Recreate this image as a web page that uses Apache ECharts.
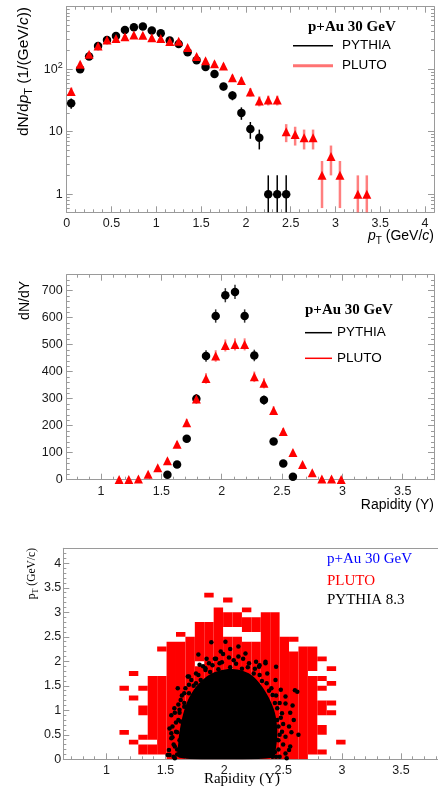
<!DOCTYPE html>
<html><head><meta charset="utf-8">
<script src="https://cdn.jsdelivr.net/npm/echarts@6/dist/echarts.min.js"></script>
<style>html,body{margin:0;padding:0;background:#fff;}#c{width:438px;height:787px;}</style>
</head><body><div id="c"></div>
<script>
// ===== Panel 1: dN/dpT =====
const ptBinsPythia = [0.05,0.15,0.25,0.35,0.45,0.55,0.65,0.75,0.85,0.95,1.05,1.15,1.25,1.35,1.45,1.55,1.65,1.75,1.85,1.95,2.05,2.15,2.25,2.35,2.45];
const pythiaPt     = [28.6,100,160,236,294,341,425,470,481,415,377,287,254,187,139,108,84,53,38,20,11,8,1,1,1];
const pythiaPtErr  = [5.3,10,12.6,15.4,17.1,18.5,20.6,21.7,21.9,20.4,19.4,16.9,15.9,13.7,11.8,10.4,9.2,7.3,6.2,4.5,3.3,2.8,1,1,1];
const ptBinsPluto  = [0.05,0.15,0.25,0.35,0.45,0.55,0.65,0.75,0.85,0.95,1.05,1.15,1.25,1.35,1.45,1.55,1.65,1.75,1.85,1.95,2.05,2.15,2.25,2.35,2.45,2.55,2.65,2.75,2.85,2.95,3.05,3.25,3.35];
const plutoPt      = [44,120,174,236,294,310,332,354,350,320,309,277,281,222,159,136,122,112,73,66,43,31,32,32,10,9,8,8,2,4,2,1,1];
const plutoPtErr   = [6.6,11,13.2,15.4,17.1,17.6,18.2,18.8,18.7,17.9,17.6,16.6,16.8,14.9,12.6,11.7,11,10.6,8.5,8.1,6.6,5.6,5.7,5.7,3.2,3,2.8,2.8,1.4,2,1.4,1,1];
const ptMajorTicks = [0,0.5,1,1.5,2,2.5,3,3.5,4];
const ptTickLabels = [0,0.5,1,1.5,2,2.5,3,3.5,4];
const logMajorTicks = [1,10,100,1000];
const logMinorTicks = [0.6,0.7,0.8,0.9,2,3,4,5,6,7,8,9,20,30,40,50,60,70,80,90,200,300,400,500,600,700,800,900];
const logTickLabels = [1,10,100];

// ===== Panel 2: dN/dY =====
const yBinsPythia = [1.55,1.63,1.71,1.79,1.87,1.95,2.03,2.11,2.19,2.27,2.35,2.43,2.51,2.59];
const pythiaY     = [18,56,152,300,458,606,683,695,606,460,295,141,60,11];
const pythiaYErr  = [4.2,7.5,12.3,17.3,21.4,24.6,26.1,26.4,24.6,21.4,17.2,11.9,7.7,3.3];
const yBinsPluto  = [1.15,1.23,1.31,1.39,1.47,1.55,1.63,1.71,1.79,1.87,1.95,2.03,2.11,2.19,2.27,2.35,2.43,2.51,2.59,2.67,2.75,2.83,2.91,2.99];
const plutoY      = [1,1,3,20,44,70,131,211,299,375,458,497,501,501,381,357,256,178,101,56,26,3,3,1];
const plutoYErr   = [1,1,1.7,4.5,6.6,8.4,11.4,14.5,17.3,19.4,21.4,22.3,22.4,22.4,19.5,18.9,16,13.3,10,7.5,5.1,1.7,1.7,1];
const rapMajorTicks = [1,1.5,2,2.5,3,3.5];
const rapTickLabels = [1,1.5,2,2.5,3,3.5];
const dndyMajorTicks = [0,100,200,300,400,500,600,700];
const dndyTickLabels = [0,100,200,300,400,500,600,700];

// ===== Panel 3: pT vs Y =====
const plutoCellCols = [1.15,1.23,1.31,1.39,1.47,1.55,1.63,1.71,1.79,1.87,1.95,2.03,2.11,2.19,2.27,2.35,2.43,2.51,2.59,2.67,2.75,2.83,2.91,2.99];
const plutoCellRanges = [
  [[0.5,0.6],[1.4,1.5]],
  [[0.3,0.4],[1.2,1.3],[1.7,1.8]],
  [[0.1,0.3],[0.4,0.5],[0.9,1.1],[1.4,1.5]],
  [[0.1,0.3],[0.4,1.7]],
  [[0.1,1.7],[2.2,2.3]],
  [[0,2.4]],
  [[0,2.4],[2.5,2.6]],
  [[0,2.5]],
  [[0,1.9],[2.0,2.8]],
  [[0,2.8],[3.3,3.4]],
  [[0,3.1]],
  [[0,2.5],[2.7,3.0],[3.2,3.3]],
  [[0,2.5],[2.7,3.0]],
  [[0,2.4],[2.6,2.9],[3.0,3.1]],
  [[0,2.4],[2.6,2.9]],
  [[0,3.0]],
  [[0,3.0]],
  [[0,2.5]],
  [[0,2.2],[2.4,2.5]],
  [[0,2.3]],
  [[0.1,1.7],[1.8,2.3]],
  [[0.1,0.2],[0.5,0.7],[0.9,1.2],[1.4,1.5],[1.6,1.7],[2.0,2.1]],
  [[0.9,1.0],[1.1,1.2],[1.5,1.6],[1.8,1.9]],
  [[0.3,0.4]]
];
const pythiaCoreY  = [1.62,1.61,1.63,1.66,1.70,1.76,1.83,1.92,2.02,2.13,2.23,2.31,2.38,2.43,2.45,2.44,2.41];
const pythiaCorePt = [0.03,0.35,0.70,1.00,1.25,1.48,1.65,1.78,1.84,1.82,1.72,1.52,1.25,0.95,0.60,0.25,0.03];
const pythiaDotY  = [1.89,2.01,1.78,2.18,1.70,1.63,1.56,1.55,1.53,1.52,2.60,2.59,2.63,2.55,2.52,2.44,2.35,2.27,1.96,1.84,1.76,1.66,1.61,2.49,2.46,2.52,
  1.69,1.70,1.605,1.66,1.576,1.62,1.55,1.63,1.535,1.59,1.55,1.62,1.58,1.535,1.647,1.79,1.84,1.76,1.87,
  2.435,2.48,2.41,2.52,2.45,2.55,2.49,2.62,2.46,2.56,2.52,2.41,2.295,2.365,2.21,2.35,
  1.60,1.62,1.66,1.70,1.74,1.80,1.88,1.95,2.05,2.15,2.25,2.32,2.38,2.43,2.45,2.44,2.43,1.60,1.58,2.47,1.92,2.08,2.12,1.99,
  1.57,1.59,1.61,1.64,1.67,1.72,1.78,1.82,1.90,1.93,1.98,2.04,2.10,2.16,2.20,2.26,2.30,2.36,2.40,2.44,2.47,2.48,2.50,2.47,2.50,2.46,2.44,1.57,1.56,1.58,2.05,1.97,2.12,1.85,2.30,2.56,2.58,2.53,1.60,2.57];
const pythiaDotPt = [2.39,2.40,2.14,2.16,1.69,1.21,0.67,0.53,0.19,0.09,1.41,0.80,0.50,0.19,1.28,1.89,1.96,1.99,1.96,1.82,1.55,1.07,0.80,0.94,0.67,0.46,
  1.69,1.52,1.45,1.35,1.04,1.01,0.90,0.77,0.63,0.56,0.43,0.39,0.26,0.09,0.16,1.93,1.86,1.75,1.96,
  1.62,1.42,1.31,1.14,1.04,0.67,0.56,1.38,0.39,0.26,0.12,0.05,1.89,1.75,1.96,1.99,
  0.55,0.95,1.15,1.35,1.50,1.62,1.78,1.84,1.88,1.85,1.75,1.60,1.40,1.15,0.80,0.40,0.15,0.20,0.02,0.05,2.05,2.02,2.10,2.15,
  0.30,0.75,1.12,1.30,1.45,1.62,1.72,1.90,1.92,2.05,1.98,2.08,1.95,2.05,1.88,1.85,1.72,1.55,1.45,1.30,1.15,0.85,0.72,0.50,0.30,0.20,0.05,0.05,0.45,0.95,2.25,2.20,2.30,2.05,1.92,0.95,1.10,0.02,0.10,0.55];
const rapTicks3 = [1,1.5,2,2.5,3,3.5];
const rapLabels3 = [1,1.5,2,2.5,3,3.5];
const ptAxisTicks3 = [0,0.5,1,1.5,2,2.5,3,3.5,4];
const ptAxisLabels3 = [0,0.5,1,1.5,2,2.5,3,3.5,4];

// ===== styling / layout =====
const FONT = "'Liberation Sans', Arial, sans-serif";
const SERIF = "'Liberation Serif', 'Times New Roman', serif";
const FRAME = '#9a9a9a';
const TXT = '#1a1a1a';
const CELL_HALF_W = 0.04;

function steps(a, b, s){ const out=[]; const n=Math.round((b-a)/s); for(let i=0;i<=n;i++) out.push(Math.round((a+i*s)*1000)/1000); return out; }
function fmtNum(v){ return String(Math.round(v*1000)/1000); }

const grids=[], xAxes=[], yAxes=[];
function common(g, c, pos){
  const o = {gridIndex:g, type:c.type||'value', min:c.min, max:c.max, position:pos,
    splitLine:{show:false}, splitArea:{show:false}, axisPointer:{show:false}, silent:true, minorTick:{show:false}};
  if (c.type==='log') o.logBase = 10;
  return o;
}
function mainAxis(g, c, pos){
  return Object.assign(common(g,c,pos), {
    axisLine:{show:true,onZero:false,lineStyle:{color:FRAME,width:1}},
    axisTick:{show:true,inside:true,length:6,customValues:c.major,lineStyle:{color:FRAME,width:1}},
    axisLabel:{show:true,customValues:c.labels,formatter:c.fmt||fmtNum,margin:c.margin,color:TXT,
      fontSize:12.5,fontFamily:FONT,hideOverlap:false,rich:c.rich||{}}
  });
}
function mirrorAxis(g, c, pos, ticks){
  return Object.assign(common(g,c,pos), {
    axisLine:{show:true,onZero:false,lineStyle:{color:FRAME,width:1}},
    axisTick:{show:ticks,inside:true,length:6,customValues:c.major,lineStyle:{color:FRAME,width:1}},
    axisLabel:{show:false}
  });
}
function minorAxis(g, c, pos){
  return Object.assign(common(g,c,pos), {
    axisLine:{show:false,onZero:false},
    axisTick:{show:true,inside:true,length:3,customValues:c.minor,lineStyle:{color:FRAME,width:1}},
    axisLabel:{show:false}
  });
}
function panel(rect, xc, yc, full){
  const gM = grids.length; grids.push(Object.assign({containLabel:false}, rect));
  const gm = grids.length; grids.push(Object.assign({containLabel:false}, rect));
  const xi = xAxes.length, yi = yAxes.length;
  xAxes.push(mainAxis(gM, xc, 'bottom'));
  xAxes.push(mirrorAxis(gM, xc, 'top', full));
  yAxes.push(mainAxis(gM, yc, 'left'));
  if (full) yAxes.push(mirrorAxis(gM, yc, 'right', true));
  xAxes.push(minorAxis(gm, xc, 'bottom'));
  if (full) xAxes.push(minorAxis(gm, xc, 'top'));
  yAxes.push(minorAxis(gm, yc, 'left'));
  if (full) yAxes.push(minorAxis(gm, yc, 'right'));
  return {xi, yi};
}

const P1 = panel({left:66.7, top:6.7, width:367.3, height:205.6},
  {min:0, max:4.1, major:ptMajorTicks, minor:steps(0,4.1,0.1), labels:ptTickLabels, margin:5},
  {type:'log', min:0.513, max:1000, major:logMajorTicks, minor:logMinorTicks, labels:logTickLabels, margin:4,
   fmt:v=> (Math.abs(v-100)<1e-6 ? '10{sup|2}' : fmtNum(v)),
   rich:{sup:{fontSize:9,fontFamily:FONT,color:TXT,padding:[0,0,8,0]}}}, true);
const P2 = panel({left:66.7, top:274.7, width:367.3, height:205},
  {min:0.7155, max:3.759, major:rapMajorTicks, minor:steps(0.8,3.7,0.1), labels:rapTickLabels, margin:5},
  {min:0, max:759, major:dndyMajorTicks, minor:steps(0,740,20), labels:dndyTickLabels, margin:4}, true);
const P3 = panel({left:63.3, top:548.3, width:376.7, height:211},
  {min:0.633, max:3.815, major:rapTicks3, minor:steps(0.7,3.8,0.1), labels:rapLabels3, margin:5},
  {min:0, max:4.306, major:ptAxisTicks3, minor:steps(0,4.3,0.1), labels:ptAxisLabels3, margin:2}, false);

function errData(xs, ys, es, floor){ return xs.map((x,i)=>[x, Math.max(ys[i]-es[i], floor), ys[i]+es[i]]); }
function errSeries(p, data, color, width){
  return {type:'custom', xAxisIndex:p.xi, yAxisIndex:p.yi, silent:true, animation:false,
    encode:{x:0,y:[1,2]}, data,
    renderItem:(params, api)=>{
      const a = api.coord([api.value(0), api.value(1)]);
      const b = api.coord([api.value(0), api.value(2)]);
      return {type:'line', shape:{x1:a[0],y1:a[1],x2:b[0],y2:b[1]}, style:{stroke:color, lineWidth:width}};
    }};
}
function pts(p, xs, ys, symbol, size, color){
  return {type:'scatter', xAxisIndex:p.xi, yAxisIndex:p.yi, silent:true, animation:false,
    symbol, symbolSize:size, itemStyle:{color, opacity:1}, data: xs.map((x,i)=>[x, ys[i]])};
}

const cellData = [];
plutoCellCols.forEach((c,i)=>plutoCellRanges[i].forEach(r=>cellData.push([c, r[0], r[1]])));

const series = [
  errSeries(P1, errData(ptBinsPythia, pythiaPt, pythiaPtErr, 0.513), '#000', 1.5),
  pts(P1, ptBinsPythia, pythiaPt, 'circle', 8.5, '#000'),
  errSeries(P1, errData(ptBinsPluto, plutoPt, plutoPtErr, 0.513), 'rgba(255,0,0,0.5)', 2.5),
  pts(P1, ptBinsPluto, plutoPt, 'triangle', 9, '#ff0000'),

  errSeries(P2, errData(yBinsPythia, pythiaY, pythiaYErr, 0), '#333', 1.5),
  pts(P2, yBinsPythia, pythiaY, 'circle', 8.5, '#000'),
  errSeries(P2, errData(yBinsPluto, plutoY, plutoYErr, 0), 'rgba(255,0,0,0.5)', 2),
  pts(P2, yBinsPluto, plutoY, 'triangle', 9, '#ff0000'),

  {type:'custom', xAxisIndex:P3.xi, yAxisIndex:P3.yi, silent:true, animation:false, clip:true,
    encode:{x:0,y:[1,2]}, data:cellData,
    renderItem:(params, api)=>{
      const a = api.coord([api.value(0)-CELL_HALF_W, api.value(2)]);
      const b = api.coord([api.value(0)+CELL_HALF_W, api.value(1)]);
      return {type:'rect', shape:{x:a[0], y:a[1], width:b[0]-a[0], height:b[1]-a[1]}, style:{fill:'#ff0000'}};
    }},
  {type:'custom', xAxisIndex:P3.xi, yAxisIndex:P3.yi, silent:true, animation:false, clip:true,
    encode:{x:0,y:1}, data:pythiaCoreY.map((y,i)=>[y, pythiaCorePt[i]]),
    renderItem:(params, api)=>{
      if (params.dataIndex !== 0) return null;
      const points = pythiaCoreY.map((y,i)=>api.coord([y, pythiaCorePt[i]]));
      return {type:'polygon', shape:{points, smooth:0.3}, style:{fill:'#000'}};
    }},
  pts(P3, pythiaDotY, pythiaDotPt, 'circle', 4.5, '#000')
];

function txt(x, y, text, o){
  return {type:'text', x, y, silent:true, rotation:o.rot||0,
    style:Object.assign({text, fill:o.color||'#000', fontSize:o.size||13, fontFamily:o.font||FONT,
      fontWeight:o.weight||'normal', align:o.align||'left', verticalAlign:o.va||'middle'}, o.rich?{rich:o.rich}:{})};
}
function hline(x1, x2, y, color, w){ return {type:'line', silent:true, shape:{x1,y1:y,x2,y2:y}, style:{stroke:color, lineWidth:w}}; }

const subRich = (size, font) => ({
  i:{fontStyle:'italic', fontSize:size, fontFamily:font, color:'#000'},
  sub:{fontSize:Math.round(size*0.72), fontFamily:font, padding:[10,0,0,0], color:'#000'}
});

const graphic = [
  // panel 1
  txt(308, 27, 'p+Au 30 GeV', {font:SERIF, size:15, weight:'bold'}),
  hline(293, 333, 45.7, '#000', 1.5),
  txt(342, 45.7, 'PYTHIA', {size:13.5}),
  hline(293, 333, 65.7, 'rgba(255,0,0,0.55)', 3),
  txt(342, 65.7, 'PLUTO', {size:13.5}),
  txt(24, 7, 'dN/d{i|p}{sub|T} (1/(GeV/{i|c}))', {size:15.5, rot:Math.PI/2, align:'right', rich:subRich(15.5, FONT)}),
  txt(434, 236, '{i|p}{sub|T} (GeV/{i|c})', {size:14, align:'right', rich:subRich(14, FONT)}),
  // panel 2
  txt(305, 310, 'p+Au 30 GeV', {font:SERIF, size:15, weight:'bold'}),
  hline(305, 332, 332.7, '#000', 1.5),
  txt(337, 332.7, 'PYTHIA', {size:13.5}),
  hline(305, 332, 358.3, '#ff0000', 1.5),
  txt(337, 358.3, 'PLUTO', {size:13.5}),
  txt(25, 281, 'dN/dY', {size:14, rot:Math.PI/2, align:'right'}),
  txt(434, 505, 'Rapidity (Y)', {size:14, align:'right'}),
  // panel 3
  txt(327, 559, 'p+Au 30 GeV', {font:SERIF, size:15, color:'#0000ff'}),
  txt(327, 581, 'PLUTO', {font:SERIF, size:15, color:'#ff0000'}),
  txt(327, 600, 'PYTHIA 8.3', {font:SERIF, size:15, color:'#000'}),
  txt(32, 548, 'p{sub|T} (GeV/c)', {font:SERIF, size:11.5, rot:Math.PI/2, align:'right',
     rich:{sub:{fontSize:8, fontFamily:SERIF, padding:[7,0,0,0], color:'#000'}}}),
  txt(242, 779, 'Rapidity (Y)', {font:SERIF, size:15, align:'center'})
];

const chart = echarts.init(document.getElementById('c'), null, {renderer:'canvas'});
chart.setOption({
  animation:false, backgroundColor:'#fff',
  grid:grids, xAxis:xAxes, yAxis:yAxes, series, graphic
});
</script></body></html>
